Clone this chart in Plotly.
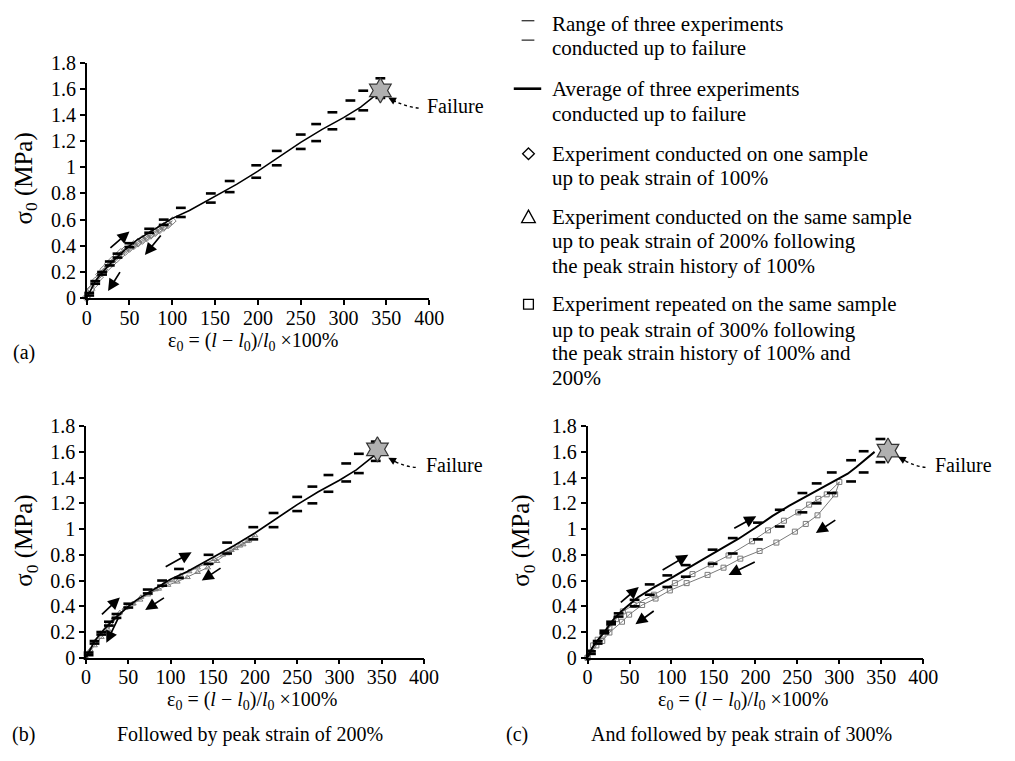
import plotly.graph_objects as go

W, H = 1015, 761
FONT = "Liberation Serif"
INK = "black"
GREY = "#7a7a7a"

# ---------------- data ----------------
# average of the three tests run to failure (panels a and b)
AVG_AB_X = [0, 5, 10, 20, 30, 40, 50, 60, 75, 90, 100, 120, 150, 175, 200, 225, 250, 275, 300, 320, 343]
AVG_AB_Y = [0, 0.07, 0.13, 0.21, 0.28, 0.34, 0.40, 0.45, 0.51, 0.57, 0.61, 0.67, 0.78, 0.87, 0.97, 1.08, 1.19, 1.29, 1.38, 1.46, 1.58]

# range of the three tests (upper / lower bound), panels a and b
RANGE_AB_X = [3, 10, 18, 27, 36, 50, 73, 90, 110, 145, 167, 198, 222, 250, 268, 287, 308, 323, 343]
RANGE_AB_HI = [0.04, 0.13, 0.20, 0.28, 0.34, 0.42, 0.53, 0.60, 0.69, 0.80, 0.895, 1.015, 1.125, 1.25, 1.33, 1.42, 1.51, 1.585, 1.68]
RANGE_AB_LO = [0.02, 0.11, 0.18, 0.25, 0.31, 0.39, 0.50, 0.56, 0.62, 0.73, 0.81, 0.92, 1.015, 1.14, 1.20, 1.29, 1.37, 1.435, 1.53]

# panel c versions
AVG_C_X = [0, 5, 10, 20, 30, 40, 60, 80, 100, 120, 140, 160, 180, 200, 220, 240, 260, 280, 300, 310, 320, 342]
AVG_C_Y = [0, 0.07, 0.12, 0.20, 0.29, 0.36, 0.47, 0.55, 0.62, 0.70, 0.775, 0.85, 0.925, 1.01, 1.10, 1.18, 1.25, 1.32, 1.39, 1.43, 1.48, 1.60]

RANGE_C_X = [4, 12, 20, 28, 37, 56, 74, 95, 117, 149, 173, 203, 229, 256, 273, 291, 314, 329, 349]
RANGE_C_HI = [0.05, 0.13, 0.21, 0.28, 0.345, 0.45, 0.57, 0.64, 0.72, 0.84, 0.93, 1.05, 1.15, 1.28, 1.355, 1.44, 1.535, 1.605, 1.70]
RANGE_C_LO = [0.03, 0.11, 0.19, 0.26, 0.32, 0.40, 0.49, 0.55, 0.63, 0.73, 0.81, 0.92, 1.02, 1.13, 1.20, 1.28, 1.37, 1.44, 1.52]

# failure points
FAIL_A = (343, 1.587)
FAIL_B = (345, 1.62)
FAIL_C = (358, 1.61)

# one sample, loaded to 100 % and unloaded
DIA_X = [0, 5, 10, 15, 20, 25, 30, 35, 40, 45, 50, 55, 60, 65, 70, 75, 80, 85, 90, 95, 100,
         95, 90, 85, 80, 75, 70, 65, 60, 55, 50, 45, 40, 35, 30, 25, 20, 15, 10, 5, 0]
DIA_Y = [0, 0.07, 0.13, 0.18, 0.22, 0.26, 0.29, 0.32, 0.35, 0.37, 0.39, 0.41, 0.43, 0.45, 0.47, 0.49, 0.51, 0.53, 0.55, 0.57, 0.59,
         0.56, 0.54, 0.52, 0.50, 0.48, 0.46, 0.44, 0.42, 0.40, 0.38, 0.355, 0.33, 0.30, 0.27, 0.24, 0.20, 0.16, 0.11, 0.06, 0.01]

# same sample, loaded to 200 % and unloaded
TRI_X = [0, 5, 10, 17, 25, 33, 40, 48, 56, 64, 73, 82, 92, 102, 112, 122, 132, 142, 152, 162, 172, 182, 191, 200,
         193, 186, 177, 167, 155, 144, 132, 120, 108, 97, 86, 75, 65, 55, 46, 36, 26, 18, 10, 4, 0]
TRI_Y = [0, 0.06, 0.12, 0.19, 0.26, 0.31, 0.35, 0.39, 0.42, 0.45, 0.49, 0.53, 0.57, 0.60, 0.64, 0.67, 0.70, 0.73, 0.765, 0.80, 0.835, 0.87, 0.905, 0.95,
         0.91, 0.88, 0.85, 0.81, 0.75, 0.70, 0.665, 0.625, 0.59, 0.565, 0.535, 0.50, 0.47, 0.42, 0.385, 0.31, 0.22, 0.16, 0.095, 0.045, 0]

# same sample, loaded to 300 % and unloaded
SQ_X = [0, 3.5, 6.6, 12, 18, 26, 34, 42, 55, 79, 104, 125, 147, 168, 196, 215, 234, 251, 264, 275, 285, 300,
        295, 274, 260, 247, 225, 205, 182, 162, 143, 118, 98, 81, 65, 49.5, 41, 26, 17.5, 10.5, 4.7, 0]
SQ_Y = [0, 0.045, 0.096, 0.14, 0.18, 0.235, 0.30, 0.36, 0.41, 0.49, 0.58, 0.65, 0.725, 0.795, 0.905, 0.99, 1.065, 1.13, 1.19, 1.235, 1.27, 1.366,
        1.27, 1.107, 1.04, 0.98, 0.895, 0.83, 0.77, 0.70, 0.644, 0.58, 0.523, 0.46, 0.41, 0.335, 0.28, 0.196, 0.13, 0.096, 0.045, 0]

STRAIN_TICKS = [0, 50, 100, 150, 200, 250, 300, 350, 400]
STRESS_TICKS = [0, 0.2, 0.4, 0.6, 0.8, 1.0, 1.2, 1.4, 1.6, 1.8]
STRESS_LABELS = ["0", "0.2", "0.4", "0.6", "0.8", "1", "1.2", "1.4", "1.6", "1.8"]

# loading / unloading direction arrows: (tail x, tail y, head x, head y)
ARROWS_A = [(26, 0.375, 50, 0.51), (88, 0.49, 68, 0.33), (40, 0.21, 25, 0.054)]
ARROWS_B = [(17, 0.327, 40, 0.468), (92.5, 0.70, 125, 0.82), (161, 0.704, 137, 0.60),
            (94, 0.473, 70, 0.372), (39.5, 0.327, 24, 0.116)]
ARROWS_C = [(37.8, 0.42, 61, 0.55), (87.6, 0.675, 120, 0.80), (173, 1.0, 201, 1.10),
            (297, 1.077, 272, 0.97), (201, 0.75, 168, 0.644), (80.6, 0.372, 57, 0.26)]

# ---------------- layout helpers ----------------
def PX(x):
    return x / W


def PY(y):
    return 1 - y / H


fig = go.Figure()

axis_common = dict(showline=True, linecolor=INK, linewidth=1.5, mirror=False,
                   ticks="outside", ticklen=5, tickwidth=1.5, tickcolor=INK,
                   showgrid=False, zeroline=False,
                   tickfont=dict(family=FONT, size=20, color=INK))

panels = {
    # name: (x-domain px, y px for 0 and 1.8)
    "": ((83.3, 432.7), (295.7, 53.1)),
    "2": ((82.7, 427.3), (666.0, 427.5)),
    "3": ((594.3, 936.7), (666.0, 427.5)),
}
for k, ((x0, x1), (y0, y1)) in panels.items():
    fig.layout["xaxis" + k] = dict(axis_common, domain=[PX(x0), PX(x1)], range=[0, 400],
                                   tickvals=STRAIN_TICKS, anchor="y" + k, ticklabelstandoff=-4)
    fig.layout["yaxis" + k] = dict(axis_common, domain=[PY(y0), PY(y1)], range=[0, 1.8],
                                   tickvals=STRESS_TICKS, ticktext=STRESS_LABELS, anchor="x" + k)


def add_panel(k, avg_x, avg_y, rx, rhi, rlo, fail, exp, avg_w):
    xa, ya = "x" + k, "y" + k
    ex, ey, sym, msize = exp
    fig.add_trace(go.Scatter(x=ex, y=ey, mode="lines+markers", xaxis=xa, yaxis=ya,
                             line=dict(color=GREY, width=1),
                             marker=dict(symbol=sym, size=msize, color=GREY, line=dict(color=GREY, width=1)),
                             cliponaxis=False, showlegend=False))
    fig.add_trace(go.Scatter(x=avg_x, y=avg_y, mode="lines", xaxis=xa, yaxis=ya,
                             line=dict(color=INK, width=avg_w), showlegend=False))
    for ys in (rhi, rlo):
        fig.add_trace(go.Scatter(x=rx, y=ys, mode="markers", xaxis=xa, yaxis=ya,
                                 marker=dict(symbol="line-ew", size=7, color=INK,
                                             line=dict(color=INK, width=2.6)),
                                 cliponaxis=False, showlegend=False))
    fig.add_trace(go.Scatter(x=[fail[0]], y=[fail[1]], mode="markers", xaxis=xa, yaxis=ya,
                             marker=dict(symbol="hexagram", size=19, color="#b0b0b0",
                                         line=dict(color="#333333", width=1.2)),
                             cliponaxis=False, showlegend=False))


add_panel("", AVG_AB_X, AVG_AB_Y, RANGE_AB_X, RANGE_AB_HI, RANGE_AB_LO, FAIL_A,
          (DIA_X, DIA_Y, "diamond-open", 6), 1.5)
add_panel("2", AVG_AB_X, AVG_AB_Y, RANGE_AB_X, RANGE_AB_HI, RANGE_AB_LO, FAIL_B,
          (TRI_X, TRI_Y, "triangle-up-open", 5), 1.7)
add_panel("3", AVG_C_X, AVG_C_Y, RANGE_C_X, RANGE_C_HI, RANGE_C_LO, FAIL_C,
          (SQ_X, SQ_Y, "square-open", 5), 2.0)

annotations = []
shapes = []


def txt(x, y, s, size=20, xanchor="center", **kw):
    annotations.append(dict(x=PX(x), y=PY(y), xref="paper", yref="paper", text=s, showarrow=False,
                            xanchor=xanchor, yanchor="middle",
                            font=dict(family=FONT, size=size, color=INK), **kw))


for k, arrows in (("", ARROWS_A), ("2", ARROWS_B), ("3", ARROWS_C)):
    for (tx, ty, hx, hy) in arrows:
        annotations.append(dict(xref="x" + k, yref="y" + k, axref="x" + k, ayref="y" + k,
                                x=hx, y=hy, ax=tx, ay=ty, text="", showarrow=True,
                                arrowhead=2, arrowsize=1.4, arrowwidth=1.7, arrowcolor=INK,
                                standoff=0, startstandoff=0))

# "Failure" callouts: dotted curved leader ending in an arrow tip at the star
CALLOUTS = [
    # tail (px), tip (px), text left edge / middle (px)
    ((422, 100), (391, 89), (428, 98)),
    ((419, 470), (391, 460), (427, 468)),
    ((939, 470), (911, 459), (947, 468)),
]
for (tx, ty), (hx, hy), (lx, ly) in CALLOUTS:
    cx, cy = (tx + hx) / 2 + 2, (ty + hy) / 2 + 4
    shapes.append(dict(type="path", xref="paper", yref="paper",
                       path=f"M {PX(tx):.5f},{PY(ty):.5f} Q {PX(cx):.5f},{PY(cy):.5f} {PX(hx + 5):.5f},{PY(hy + 3):.5f}",
                       line=dict(color=INK, width=1.4, dash="dot")))
    annotations.append(dict(xref="paper", yref="paper", x=PX(hx), y=PY(hy), ax=9, ay=5,
                            text="", showarrow=True, arrowhead=2, arrowsize=1.1,
                            arrowwidth=1.4, arrowcolor=INK, standoff=0))
    txt(lx, ly, "Failure", xanchor="left")

# axis titles and panel captions
YTITLE = "σ<sub>0</sub> (MPa)"
XTITLE = "ε<sub>0</sub> = (<i>l</i> − <i>l</i><sub>0</sub>)/<i>l</i><sub>0</sub> ×100%"
for (x, y) in ((21, 173), (21, 546), (528, 546)):
    txt(x, y, YTITLE, size=25, textangle=-90)
for (x, y) in ((254, 340), (252, 710), (753, 710)):
    txt(x, y, XTITLE)
txt(19, 352, "(a)")
txt(19, 745, "(b)")
txt(522, 745, "(c)")
txt(250, 745, "Followed by peak strain of 200%")
txt(751, 745, "And followed by peak strain of 300%")

# legend block
LEGEND_LINES = [
    (13, "Range of three experiments"), (38, "conducted up to failure"),
    (80, "Average of three experiments"), (106, "conducted up to failure"),
    (147, "Experiment conducted on one sample"), (172, "up to peak strain of 100%"),
    (212, "Experiment conducted on the same sample"), (237, "up to peak strain of 200% following"),
    (263, "the peak strain history of 100%"),
    (302, "Experiment repeated on the same sample"), (328, "up to peak strain of 300% following"),
    (352, "the peak strain history of 100% and"), (378, "200%"),
]
for y, s in LEGEND_LINES:
    txt(556, y, s, size=21, xanchor="left")


def pline(x0, y0, x1, y1, w, color=INK):
    shapes.append(dict(type="line", xref="paper", yref="paper", x0=PX(x0), y0=PY(y0),
                       x1=PX(x1), y1=PY(y1), line=dict(color=color, width=w)))


def ppoly(pts):
    d = "M " + " L ".join(f"{PX(a):.5f},{PY(b):.5f}" for a, b in pts) + " Z"
    shapes.append(dict(type="path", xref="paper", yref="paper", path=d,
                       line=dict(color=INK, width=1.3)))


pline(527, 10, 540, 10, 1.3, "#333333")
pline(527, 30, 540, 30, 1.3, "#333333")
pline(519, 80, 547, 80, 2.6)
ppoly([(534, 141), (540, 147), (534, 153), (528, 147)])
ppoly([(534, 205), (541, 218), (527, 218)])
ppoly([(529, 297), (539, 297), (539, 307), (529, 307)])

fig.update_layout(width=W, height=H, margin=dict(l=0, r=0, t=0, b=0),
                  paper_bgcolor="white", plot_bgcolor="white",
                  annotations=annotations, shapes=shapes, showlegend=False,
                  font=dict(family=FONT, color=INK))

fig.write_html("out.html")
